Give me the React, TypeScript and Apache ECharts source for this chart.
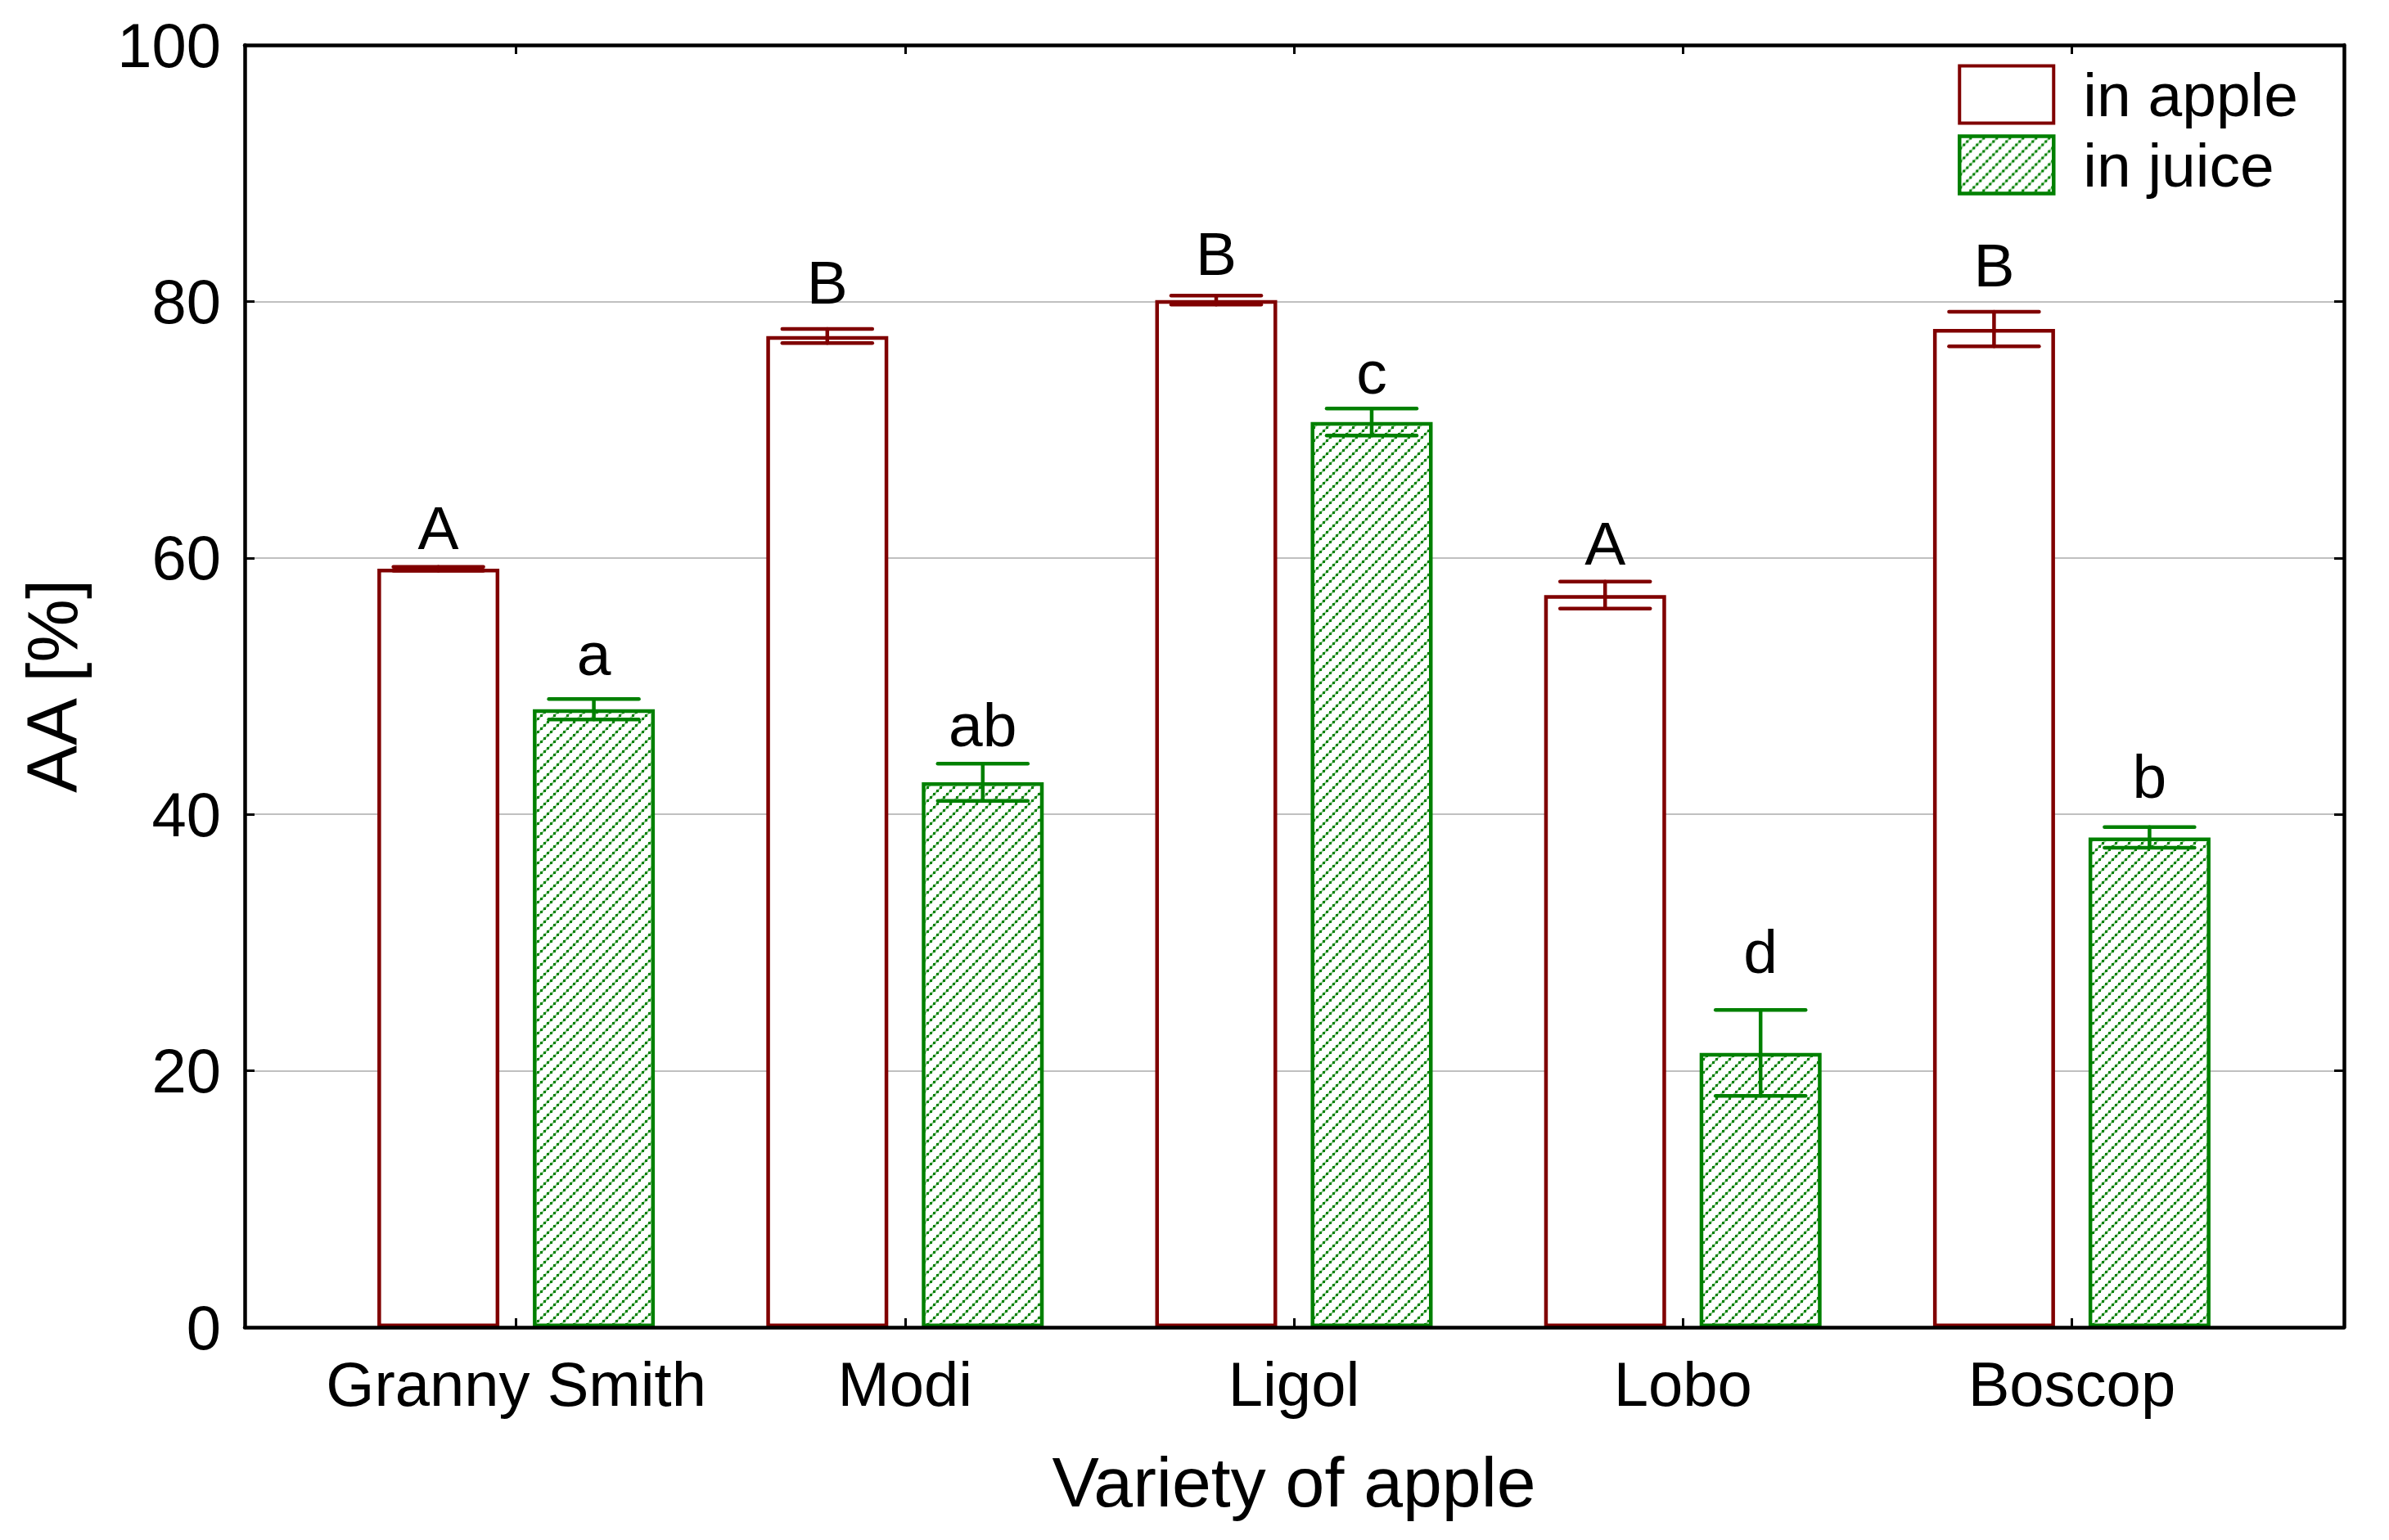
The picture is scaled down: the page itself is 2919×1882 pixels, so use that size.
import React, { useEffect, useRef } from "react";
import * as echarts from "echarts";

const categories = ["Granny Smith", "Modi", "Ligol", "Lobo", "Boscop"];
const appleValues = [59.15, 77.3, 80.1, 57.1, 77.85];
const appleErrors = [0.15, 0.55, 0.35, 1.05, 1.35];
const juiceValues = [48.2, 42.5, 70.6, 21.4, 38.2];
const juiceErrors = [0.8, 1.45, 1.05, 3.35, 0.8];
const appleLetters = ["A", "B", "B", "A", "B"];
const juiceLetters = ["a", "ab", "c", "d", "b"];
const appleLetterY = [60.67, 79.81, 82.04, 59.46, 81.2];
const juiceLetterY = [50.85, 45.3, 72.79, 27.62, 41.28];
const yTicks = [0, 20, 40, 60, 80, 100];

const FONT = '"Liberation Sans", Arial, Helvetica, sans-serif';
const RED = "#800000";
const GREEN = "#008000";
const BAR_W = 149;
const BAR_GAP = 0.275;

function makePattern() {
  const T = 16;
  const cv = document.createElement("canvas");
  cv.width = T;
  cv.height = T;
  const ctx = cv.getContext("2d")!;
  ctx.fillStyle = "#ffffff";
  ctx.fillRect(0, 0, T, T);
  ctx.strokeStyle = "rgba(0,128,0,0.35)";
  ctx.lineWidth = 2.5;
  ctx.beginPath();
  ctx.moveTo(-4, T + 4);
  ctx.lineTo(T + 4, -4);
  ctx.moveTo(-4, 4);
  ctx.lineTo(4, -4);
  ctx.moveTo(T - 4, T + 4);
  ctx.lineTo(T + 4, T - 4);
  ctx.stroke();
  ctx.fillStyle = GREEN;
  for (let i = 0; i < T; i += 4) {
    ctx.fillRect(i, T - i - 3, 3, 3);
  }
  return { image: cv, repeat: "repeat", imageWidth: T, imageHeight: T } as any;
}

function makeRender(sign: number, color: string, letters: string[]) {
  return (params: any, api: any) => {
    const i = api.value(0);
    const lo = api.value(1);
    const hi = api.value(2);
    const ly = api.value(3);
    const pHi = api.coord([i, hi]);
    const pLo = api.coord([i, lo]);
    const pL = api.coord([i, ly]);
    const offset = (sign * (BAR_W + BAR_W * BAR_GAP)) / 2;
    const x = pHi[0] + offset;
    const cap = 55;
    const ls = { stroke: color, lineWidth: 4.5, lineCap: "round" };
    return {
      type: "group",
      children: [
        { type: "line", shape: { x1: x, y1: pHi[1], x2: x, y2: pLo[1] }, style: ls },
        { type: "line", shape: { x1: x - cap, y1: pHi[1], x2: x + cap, y2: pHi[1] }, style: ls },
        { type: "line", shape: { x1: x - cap, y1: pLo[1], x2: x + cap, y2: pLo[1] }, style: ls },
        {
          type: "text",
          x: x,
          y: pL[1] - 26,
          style: {
            text: letters[params.dataIndex],
            fill: "#000",
            fontSize: 75,
            fontFamily: FONT,
            align: "center",
            verticalAlign: "middle",
            textAlign: "center",
            textVerticalAlign: "middle",
          },
        },
      ],
    };
  };
}

export default function App() {
  const ref = useRef<HTMLDivElement>(null);
  useEffect(() => {
    document.body.style.margin = "0";
    const chart = echarts.init(ref.current!, null, { renderer: "svg" });
    const pattern = makePattern();
    const frameLine = { show: true, onZero: false, lineStyle: { color: "#000", width: 4.5 } };
    const insideTick = { show: true, inside: true, length: 12, lineStyle: { color: "#000", width: 3 } };
    chart.setOption({
      animation: false,
      backgroundColor: "#fff",
      textStyle: { fontFamily: FONT },
      grid: [
        { left: 299, right: 55, top: 55, bottom: 260 },
        { left: 393, right: 150, top: 55, bottom: 260 },
      ],
      legend: {
        orient: "vertical",
        left: 2392,
        top: 78,
        padding: 0,
        itemWidth: 115,
        itemHeight: 70,
        itemGap: 11,
        selectedMode: false,
        textStyle: { fontSize: 75, color: "#000", fontFamily: FONT, lineHeight: 70, padding: [0, 0, 0, 31] },
        data: [
          { name: "in apple", icon: "rect", itemStyle: { color: "#fff", borderColor: RED, borderWidth: 4 } },
          { name: "in juice", icon: "rect", itemStyle: { color: pattern, borderColor: GREEN, borderWidth: 4.5 } },
        ],
      },
      xAxis: [
        { gridIndex: 0, type: "value", min: 0, max: 1, position: "bottom", z: 10, axisLine: frameLine, axisTick: { show: false }, axisLabel: { show: false }, splitLine: { show: false } },
        { gridIndex: 0, type: "value", min: 0, max: 1, position: "top", z: 10, axisLine: frameLine, axisTick: { show: false }, axisLabel: { show: false }, splitLine: { show: false } },
        {
          gridIndex: 1,
          type: "category",
          data: categories,
          position: "bottom",
          z: 11,
          axisLine: { show: false, onZero: false },
          axisTick: { ...insideTick, length: 11, alignWithLabel: true, interval: 0 },
          axisLabel: { fontSize: 76, color: "#000", margin: 31, fontFamily: FONT, interval: 0 },
          name: "Variety of apple",
          nameLocation: "middle",
          nameGap: 146,
          nameTextStyle: { fontSize: 86, color: "#000", fontFamily: FONT },
        },
        {
          gridIndex: 1,
          type: "category",
          data: categories,
          position: "top",
          z: 11,
          axisLine: { show: false, onZero: false },
          axisTick: { ...insideTick, length: 11, alignWithLabel: true, interval: 0 },
          axisLabel: { show: false, interval: 0 },
        },
      ],
      yAxis: [
        {
          gridIndex: 0,
          type: "value",
          min: yTicks[0],
          max: yTicks[yTicks.length - 1],
          interval: 20,
          position: "left",
          axisLine: frameLine,
          axisTick: insideTick,
          axisLabel: { fontSize: 76, color: "#000", margin: 29, fontFamily: FONT },
          splitLine: { show: true, lineStyle: { color: "#c0c0c0", width: 2 } },
          name: "AA [%]",
          nameLocation: "middle",
          nameGap: 192,
          nameTextStyle: { fontSize: 87, color: "#000", fontFamily: FONT },
        },
        {
          gridIndex: 0,
          type: "value",
          min: yTicks[0],
          max: yTicks[yTicks.length - 1],
          interval: 20,
          position: "right",
          axisLine: frameLine,
          axisTick: insideTick,
          axisLabel: { show: false },
          splitLine: { show: false },
        },
        { gridIndex: 1, type: "value", min: 0, max: 100, show: false },
      ],
      series: [
        {
          type: "bar",
          name: "in apple",
          xAxisIndex: 2,
          yAxisIndex: 2,
          data: appleValues,
          barWidth: BAR_W,
          barGap: BAR_GAP * 100 + "%",
          itemStyle: { color: "#fff", borderColor: RED, borderWidth: 4.5 },
          z: 2,
        },
        {
          type: "bar",
          name: "in juice",
          xAxisIndex: 2,
          yAxisIndex: 2,
          data: juiceValues,
          barWidth: BAR_W,
          barGap: BAR_GAP * 100 + "%",
          itemStyle: { color: pattern, borderColor: GREEN, borderWidth: 4.5 },
          z: 2,
        },
        {
          type: "custom",
          name: "apple error",
          xAxisIndex: 2,
          yAxisIndex: 2,
          z: 5,
          renderItem: makeRender(-1, RED, appleLetters),
          data: appleValues.map((v, i) => [i, v - appleErrors[i], v + appleErrors[i], appleLetterY[i]]),
        },
        {
          type: "custom",
          name: "juice error",
          xAxisIndex: 2,
          yAxisIndex: 2,
          z: 5,
          renderItem: makeRender(1, GREEN, juiceLetters),
          data: juiceValues.map((v, i) => [i, v - juiceErrors[i], v + juiceErrors[i], juiceLetterY[i]]),
        },
      ],
    });
    return () => chart.dispose();
  }, []);
  return <div ref={ref} style={{ width: 2919, height: 1882 }} />;
}
